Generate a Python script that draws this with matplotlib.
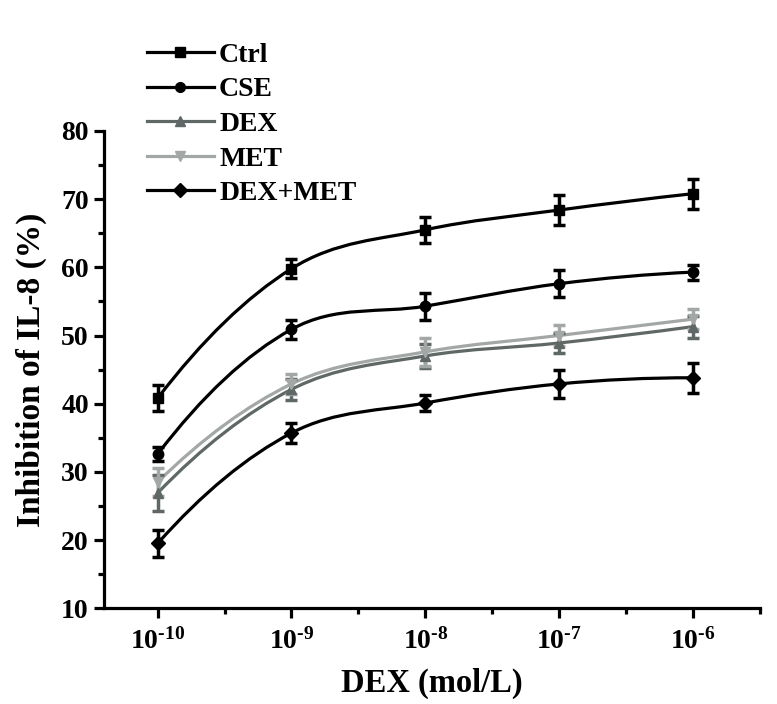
import matplotlib
matplotlib.use("Agg")
import matplotlib.pyplot as plt
from matplotlib.path import Path
from matplotlib.patches import PathPatch
from matplotlib.lines import Line2D
from matplotlib.ticker import MultipleLocator

plt.rcParams['font.family'] = ['Liberation Serif', 'DejaVu Serif']
plt.rcParams['font.weight'] = 'bold'
plt.rcParams['mathtext.fontset'] = 'custom'
plt.rcParams['mathtext.rm'] = 'Liberation Serif:bold'
plt.rcParams['mathtext.default'] = 'rm'

# data
doses = [r'10$^{\text{-10}}$', r'10$^{\text{-9}}$', r'10$^{\text{-8}}$',
         r'10$^{\text{-7}}$', r'10$^{\text{-6}}$']
xpos = [1, 2, 3, 4, 5]
groups = ['Ctrl', 'CSE', 'DEX', 'MET', 'DEX+MET']
ctrl = [40.8, 59.8, 65.5, 68.4, 70.8]
ctrl_err = [1.9, 1.4, 1.9, 2.2, 2.2]
cse = [32.6, 50.9, 54.3, 57.6, 59.3]
cse_err = [1.0, 1.4, 2.0, 2.0, 1.1]
dex = [26.9, 42.1, 47.0, 48.9, 51.3]
dex_err = [2.7, 1.5, 1.8, 1.5, 1.6]
met = [28.5, 42.9, 47.6, 50.0, 52.4]
met_err = [2.0, 1.5, 2.0, 1.5, 1.5]
dexmet = [19.5, 35.7, 40.1, 42.9, 43.8]
dexmet_err = [2.0, 1.4, 1.2, 2.0, 2.2]

series = [ctrl, cse, dex, met, dexmet]
errors = [ctrl_err, cse_err, dex_err, met_err, dexmet_err]
colors = ['black', 'black', '#5f6866', '#a3a8a7', 'black']
markers = ['s', 'o', '^', 'v', 'D']


def smooth_path(xs, ys):
    # cardinal spline through the points, drawn as cubic bezier segments
    n = len(xs)
    tx, ty = [], []
    for i in range(n):
        if 0 < i < n - 1:
            tx.append((xs[i + 1] - xs[i - 1]) / 2)
            ty.append((ys[i + 1] - ys[i - 1]) / 2)
        else:
            tx.append(0)
            ty.append(0)
    # parabolic end tangents
    tx[0] = 2 * (xs[1] - xs[0]) - tx[1]
    ty[0] = 2 * (ys[1] - ys[0]) - ty[1]
    tx[-1] = 2 * (xs[-1] - xs[-2]) - tx[-2]
    ty[-1] = 2 * (ys[-1] - ys[-2]) - ty[-2]
    verts = [(xs[0], ys[0])]
    codes = [Path.MOVETO]
    for i in range(n - 1):
        verts.append((xs[i] + tx[i] / 3, ys[i] + ty[i] / 3))
        verts.append((xs[i + 1] - tx[i + 1] / 3, ys[i + 1] - ty[i + 1] / 3))
        verts.append((xs[i + 1], ys[i + 1]))
        codes += [Path.CURVE4] * 3
    return Path(verts, codes)


fig = plt.figure(figsize=(7.77, 7.04), dpi=100)
ax = fig.add_axes([0.134, 0.136, 0.844, 0.678])

handles = []
for name, ys, es, c, m in zip(groups, series, errors, colors, markers):
    ax.add_patch(PathPatch(smooth_path(xpos, ys), fill=False, edgecolor=c, lw=2.3, zorder=2))
    ax.errorbar(xpos, ys, yerr=es, fmt=m, color=c, ms=7.5, capsize=4.5, capthick=2.5,
                elinewidth=2.5, zorder=3)
    handles.append(Line2D([], [], color=c, lw=2.3, marker=m, ms=7, label=name))

ax.set_xlim(0.6, 5.5)
ax.set_ylim(10, 80)
ax.set_xticks(xpos)
ax.set_xticklabels(doses)
ax.xaxis.set_minor_locator(MultipleLocator(0.5))
ax.yaxis.set_major_locator(MultipleLocator(10))
ax.yaxis.set_minor_locator(MultipleLocator(5))

for s in ['top', 'right']:
    ax.spines[s].set_visible(False)
for s in ['left', 'bottom']:
    ax.spines[s].set_linewidth(2.3)
ax.tick_params(which='major', length=7, width=2.3, labelsize=20)
ax.tick_params(axis='x', which='major', pad=7)
ax.tick_params(axis='y', which='major', pad=4)
ax.tick_params(which='minor', length=4, width=2.3)

ax.set_xlabel('DEX (mol/L)', fontsize=23.5, fontweight='bold', labelpad=10)
ax.set_ylabel('Inhibition of IL-8 (%)', fontsize=24, fontweight='bold', labelpad=10)

fig.legend(handles=handles, loc='upper left', bbox_to_anchor=(0.189, 0.94),
           frameon=False, fontsize=20, handlelength=2.4, handletextpad=0.2,
           labelspacing=0.33, borderpad=0, borderaxespad=0)

fig.savefig('out.png', dpi=100)
